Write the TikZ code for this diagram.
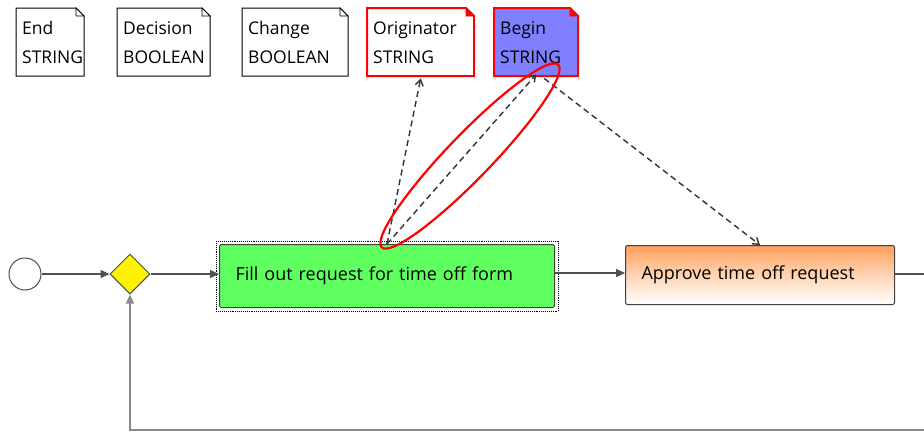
\documentclass[tikz,border=0pt]{standalone}
\usepackage{fontspec}
\setmainfont{Open Sans}
\usetikzlibrary{shapes.geometric,arrows.meta}
\definecolor{taskgreen}{HTML}{5FFF5F}
\definecolor{taskorange}{HTML}{FF9F5A}
\definecolor{dataBlue}{HTML}{8080FF}
\definecolor{flowgray}{HTML}{505050}
\definecolor{loopgray}{HTML}{8A8A8A}
\definecolor{hlred}{HTML}{FF0000}
\tikzset{
  dataobj/.style={anchor=north west, minimum height=68pt, inner xsep=6pt, inner ysep=0pt,
    align=left, font=\fontsize{17.5}{29}\selectfont, text=black},
  taskbox/.style={rectangle, rounded corners=1.5pt, draw=black!75, line width=1pt,
    minimum height=63pt, inner xsep=16pt, font=\fontsize{18}{22}\selectfont, anchor=north west},
  flow/.style={draw=flowgray, line width=1.3pt, -{Triangle[length=9pt,width=8pt]}},
  assoc/.style={draw=black!80, line width=1.4pt, dash pattern=on 6pt off 4pt, -{Straight Barb[length=6pt,width=8pt]}},
}
\begin{document}
\begin{tikzpicture}[x=1pt,y=-1pt]
\useasboundingbox[fill=white] (0,0) rectangle (924,432);

% data object outlines
\foreach \x/\w/\fc/\dc/\lw/\ff in {16/68/white/black/1pt/white, 117/93/white/black/1pt/white, 242/106/white/black/1pt/white, 367/107/white/hlred/2pt/hlred, 494/84/dataBlue/hlred/2pt/hlred}{
  \draw[draw=\dc, line width=\lw, fill=\fc] (\x,8) -- ++(\w-8,0) -- ++(8,8) -- (\x+\w,76) -- (\x,76) -- cycle;
  \draw[draw=\dc, line width=0.8pt, fill=\ff] (\x+\w-8,8) -- (\x+\w-8,16) -- (\x+\w,16) -- cycle;
}
% data object labels
\node[dataobj, text width=56pt] (end) at (16,8) {End\\STRING};
\node[dataobj, text width=81pt] (dec) at (117,8) {Decision\\BOOLEAN};
\node[dataobj, text width=94pt] (chg) at (242,8) {Change\\BOOLEAN};
\node[dataobj, text width=95pt] (orig) at (367,8) {Originator\\STRING};
\node[dataobj, text width=72pt] (begin) at (494,8) {Begin\\STRING};

% flow elements
\node[circle, draw=black!70, line width=1pt, fill=white, minimum size=32pt, inner sep=0pt] (start) at (25,274) {};
\node[diamond, draw=black!70, line width=1pt, fill=yellow, minimum width=40pt, minimum height=40pt, inner sep=0pt] (gw) at (130,274) {};
\node[taskbox, fill=taskgreen, minimum width=335pt, text width=303pt, align=left] (fill) at (219,244) {Fill out request for time off form};
\draw[densely dotted, line width=0.9pt] ([shift={(-3,-3)}]fill.north west) rectangle ([shift={(3,3)}]fill.south east);
\node[taskbox, top color=taskorange, bottom color=white, middle color=taskorange!45, minimum width=269pt, minimum height=59pt, text width=237pt, align=left] (appr) at (625,245) {Approve time off request};

\coordinate (outR) at (924,274);
\coordinate (loopR) at (924,430);
\coordinate (loopL) at (130,430);

\draw[flow] (start) -- (gw);
\draw[flow] (gw) -- (fill.west |- gw);
\draw[flow] (fill.east |- 0,273) -- (appr.west |- 0,273);
\draw[draw=flowgray, line width=1.3pt] (appr.east |- outR) -- (outR);
\draw[draw=loopgray, line width=1.3pt, -{Triangle[length=9pt,width=8pt]}] (loopR) -- (loopL) -- (gw.south);

% associations
\draw[assoc] (fill.north) -- ([yshift=-2pt]orig.south);
\draw[assoc] (fill.north) -- ([yshift=2pt]begin.south);
\draw[assoc] ([xshift=8pt,yshift=-2pt]begin.south) -- (appr.north);

% highlight ellipse
\node[ellipse, draw=hlred, line width=2.2pt, rotate=46, minimum width=254pt, minimum height=44pt, inner sep=0pt] (hl) at (470,156) {};
\end{tikzpicture}
\end{document}
